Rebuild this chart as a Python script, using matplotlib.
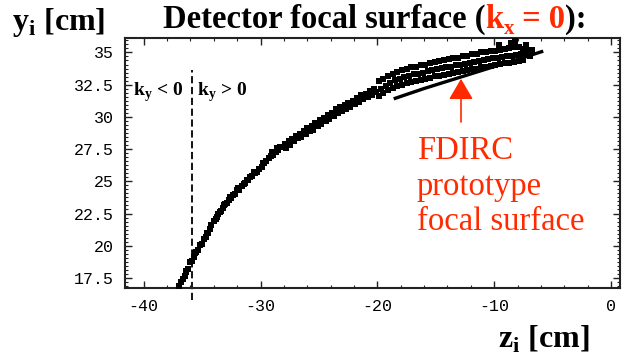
import matplotlib
matplotlib.use('Agg')
import matplotlib.pyplot as plt
from matplotlib.ticker import MultipleLocator

plt.rcParams['mathtext.fontset'] = 'custom'
plt.rcParams['mathtext.rm'] = 'Liberation Serif'
plt.rcParams['mathtext.bf'] = 'Liberation Serif:bold'

# ---------------- data ----------------
# main focal-surface scatter, left part
z_left = [-36.95, -36.8, -36.65, -36.5, -36.35, -36.2, -36.0, -35.85, -35.7, -35.5,
          -35.35, -35.2, -35.0, -34.85, -34.7, -34.5, -34.35, -34.2, -34.0, -33.85,
          -33.7, -33.5, -33.35, -33.2, -33.0, -32.85, -32.7, -32.5, -32.35, -32.2,
          -32.0, -31.8, -31.6, -31.45, -31.3, -31.1, -30.9, -30.7, -30.5, -30.3,
          -30.1, -29.9, -29.7, -29.5, -29.3, -29.1, -28.9, -28.7, -28.5, -28.3, -28.1,
          -36.4, -35.6, -34.6, -33.6, -33.1, -32.6, -31.9, -31.2, -30.6, -29.8, -29.0, -28.6]
y_left = [16.85, 17.2, 17.4, 17.65, 18.0, 18.2, 18.7, 18.85, 19.1, 19.5,
          19.7, 20.05, 20.15, 20.5, 20.7, 21.0, 21.3, 21.6, 21.95, 22.1,
          22.2, 22.6, 22.7, 22.95, 23.25, 23.3, 23.55, 23.7, 23.95, 24.0,
          24.3, 24.35, 24.6, 24.8, 24.85, 25.1, 25.3, 25.4, 25.65, 25.7,
          25.95, 26.1, 26.4, 26.55, 26.8, 27.0, 27.05, 27.3, 27.4, 27.65, 27.7,
          18.05, 19.45, 21.0, 22.45, 23.15, 23.75, 24.45, 25.1, 25.75, 26.45, 27.3, 27.55]

# middle part
z_mid = [-27.9, -27.8, -27.6, -27.5, -27.3, -27.1, -27.0, -26.8, -26.6, -26.5,
         -26.3, -26.1, -26.0, -25.8, -25.6, -25.5, -25.3, -25.1, -24.9, -24.8,
         -24.6, -24.4, -24.2, -24.1, -23.9, -23.7, -23.5, -23.4, -23.2, -23.0,
         -22.8, -22.7, -22.5, -22.3, -22.1, -21.9, -21.7, -21.6, -21.4, -21.2,
         -21.0, -20.8, -20.6, -20.5, -20.3, -20.1]
y_mid = [27.9, 27.6, 28.1, 27.85, 28.3, 28.1, 28.5, 28.35, 28.7, 28.45,
         28.9, 28.7, 29.15, 28.9, 29.3, 29.0, 29.55, 29.3, 29.75, 29.45,
         29.9, 29.7, 30.15, 29.85, 30.3, 30.05, 30.6, 30.3, 30.75, 30.45,
         30.9, 30.6, 31.1, 30.8, 31.25, 31.0, 31.45, 31.15, 31.7, 31.4,
         31.8, 31.55, 32.0, 31.7, 32.2, 31.9]

# right part (wide band)
z_right = [-19.9, -19.5, -19.1, -18.7, -18.3, -17.9, -17.5, -17.1, -16.7, -16.3,
           -15.9, -15.5, -15.1, -14.7, -14.3, -13.9, -13.5, -13.1, -12.7, -12.3,
           -11.9, -11.5, -11.1, -10.7, -10.3, -9.9, -9.5, -9.1, -8.7, -8.3,
           -7.9, -7.5, -7.1,
           -19.7, -19.3, -18.9, -18.5, -18.1, -17.7, -17.3, -16.9, -16.5, -16.1,
           -15.7, -15.3, -14.9, -14.5, -14.1, -13.7, -13.3, -12.9, -12.5, -12.1,
           -11.7, -11.3, -10.9, -10.5, -10.1, -9.7, -9.3, -8.9, -8.5, -8.1,
           -7.7, -7.3, -6.9,
           -19.9, -19.5, -19.1, -18.7, -18.3, -17.9, -17.5, -17.1, -16.7, -16.3,
           -15.9, -15.5, -15.1, -14.7, -14.3, -13.9, -13.5, -13.1, -12.7, -12.3,
           -11.9, -11.5, -11.1, -10.7, -10.3, -9.9, -9.5, -9.1, -8.7, -8.3,
           -7.9, -7.5,
           -8.6, -8.2, -7.3, -9.6, -6.8]
y_right = [32.75, 32.95, 33.2, 33.35, 33.5, 33.6, 33.7, 33.85, 33.9, 34.0,
           34.05, 34.2, 34.25, 34.35, 34.4, 34.5, 34.55, 34.6, 34.7, 34.75,
           34.85, 34.9, 35.0, 35.05, 35.1, 35.15, 35.2, 35.3, 35.35, 35.45,
           35.4, 35.3, 35.1,
           32.2, 32.4, 32.6, 32.85, 32.9, 33.1, 33.15, 33.3, 33.35, 33.4,
           33.55, 33.6, 33.7, 33.8, 33.85, 33.9, 34.0, 34.05, 34.1, 34.2,
           34.25, 34.35, 34.4, 34.5, 34.55, 34.6, 34.65, 34.7, 34.75, 34.8,
           34.85, 34.9, 34.7,
           31.6, 31.85, 32.1, 32.25, 32.4, 32.5, 32.6, 32.7, 32.75, 32.85,
           32.95, 33.05, 33.15, 33.2, 33.25, 33.35, 33.4, 33.45, 33.55, 33.6,
           33.7, 33.75, 33.85, 33.9, 33.95, 34.05, 34.1, 34.15, 34.2, 34.25,
           34.3, 34.4,
           35.75, 35.85, 35.6, 35.55, 35.2]

# FDIRC prototype focal surface
z_proto = [-18.6, -16.0, -13.0, -10.0, -7.5, -5.8]
y_proto = [31.4, 32.2, 33.05, 33.9, 34.6, 35.1]

# ky = 0 boundary
z_boundary = -35.9
y_boundary = (15.81, 33.64)

# annotation arrow (base -> tip)
arrow_base = (-12.84, 29.6)
arrow_tip = (-12.84, 32.95)

x_ticks = [-40, -30, -20, -10, 0]
x_ticklabels = ['-40', '-30', '-20', '-10', '0']
y_ticks = [17.5, 20, 22.5, 25, 27.5, 30, 32.5, 35]
y_ticklabels = ['17.5', '20', '22.5', '25', '27.5', '30', '32.5', '35']

RED = '#ff2a00'
SERIF = 'Liberation Serif'
MONO = 'Liberation Mono'

# ---------------- figure ----------------
W, H = 624, 360
fig = plt.figure(figsize=(W / 100, H / 100), dpi=100)
ax = fig.add_axes([125 / W, 1 - 288 / H, (620 - 125) / W, (288 - 38) / H])
ax.set_xlim(-41.6, 0.77)
ax.set_ylim(16.72, 36.12)

ax.scatter(z_left + z_mid + z_right, y_left + y_mid + y_right,
           marker='s', s=17, c='black', linewidths=0, zorder=3)
ax.plot(z_proto, y_proto, color='black', lw=2.4, solid_capstyle='butt', zorder=3)

ax.plot([z_boundary, z_boundary], list(y_boundary), color='black', lw=1.3,
        linestyle=(0, (4, 2)), clip_on=False, zorder=2)

ax.annotate('', xy=arrow_tip, xytext=arrow_base,
            arrowprops=dict(arrowstyle='-|>,head_length=0.85,head_width=0.5',
                            mutation_scale=15, color=RED, lw=1.2,
                            shrinkA=0, shrinkB=0))

ax.set_xticks(x_ticks)
ax.set_xticklabels(x_ticklabels)
ax.set_yticks(y_ticks)
ax.set_yticklabels(y_ticklabels)
ax.xaxis.set_minor_locator(MultipleLocator(2))
ax.yaxis.set_minor_locator(MultipleLocator(2.5 / 8))
ax.tick_params(which='both', direction='in', top=True, right=True, color='#222222')
ax.tick_params(which='major', length=5, width=1.0, pad=8)
ax.tick_params(which='minor', length=2.5, width=0.8)
for lab in ax.get_xticklabels() + ax.get_yticklabels():
    lab.set_fontfamily(MONO)
    lab.set_fontsize(12)
for sp in ax.spines.values():
    sp.set_linewidth(1.5)
    sp.set_color('#222222')

# in-plot labels
fig.text(133 / W, 1 - 96 / H, r'k$_\mathregular{y}$ < 0', family=SERIF, weight='bold',
         fontsize=14, color='black')
fig.text(197 / W, 1 - 96 / H, r'k$_\mathregular{y}$ > 0', family=SERIF, weight='bold',
         fontsize=14, color='black')

# annotation text, one line at a time (baselines)
note_lines = ['FDIRC', 'prototype', 'focal surface']
note_baselines = [159, 195, 230]
for line, yb in zip(note_lines, note_baselines):
    fig.text(417 / W, 1 - yb / H, line, family=SERIF, fontsize=23.5, color=RED,
             va='baseline')

# axis labels
fig.text(12 / W, 1 - 30 / H, r'y$_\mathregular{i}$ [cm]', family=SERIF, weight='bold',
         fontsize=23, va='baseline')
fig.text(498 / W, 1 - 348 / H, r'z$_\mathregular{i}$ [cm]', family=SERIF, weight='bold',
         fontsize=23, va='baseline')

# multicoloured title
fig.canvas.draw()
renderer = fig.canvas.get_renderer()
title_parts = [('Detector focal surface (', 'black', 23.5, 0),
               ('k', RED, 23.5, 0),
               ('x', RED, 15, -6),
               (' = 0', RED, 23.5, 0),
               ('):', 'black', 23.5, 0)]
xpix = 163
for txt, col, fs, dy in title_parts:
    t = fig.text(xpix / W, 1 - (28 - dy) / H, txt, family=SERIF, weight='bold',
                 fontsize=fs, color=col, va='baseline')
    bb = t.get_window_extent(renderer=renderer)
    xpix += bb.width

fig.savefig('out.png', dpi=100)
